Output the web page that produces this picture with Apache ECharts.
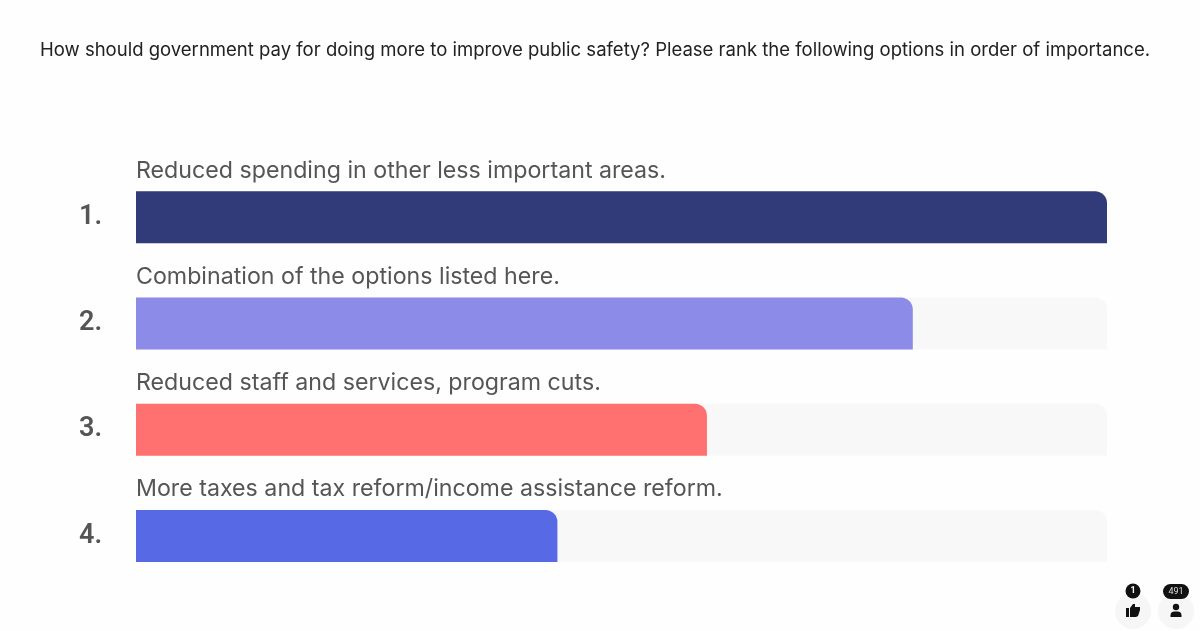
<!DOCTYPE html>
<html><head><meta charset="utf-8">
<style>html,body{margin:0;padding:0;background:#fff}#c{width:1200px;height:631px}</style>
<script src="https://cdn.jsdelivr.net/npm/echarts@6/dist/echarts.min.js"></script>
</head><body><div id="c"></div>
<script>
const titleText = 'How should government pay for doing more to improve public safety? Please rank the following options in order of importance.';
const ranks = ['1.', '2.', '3.', '4.'];
const options = [
  'Reduced spending in other less important areas.',
  'Combination of the options listed here.',
  'Reduced staff and services, program cuts.',
  'More taxes and tax reform/income assistance reform.'
];
const scores = [100, 80, 58.8, 43.4];
const colors = ['#323b7a', '#8c8ce8', '#ff7070', '#5869e6'];
const trackValues = [100, 100, 100, 100];
const likes = '1';
const participants = '491';

const chart = echarts.init(document.getElementById('c'), null, {renderer: 'canvas'});
const FONT = 'Inter';
chart.setOption({
  animation: false,
  backgroundColor: '#fefefe',
  title: {
    text: titleText, left: 35, top: 36,
    textStyle: {fontFamily: FONT, fontSize: 18.53, fontWeight: 400, color: '#222222'}
  },
  grid: {left: 136, right: 93, top: 164, bottom: 42},
  xAxis: {type: 'value', min: 0, max: 100, show: false},
  yAxis: {
    type: 'category', data: ranks, inverse: true,
    axisLine: {show: false}, axisTick: {show: false},
    axisLabel: {
      align: 'left', margin: 57, padding: [3, 0, 0, 0], fontFamily: 'Roboto', fontSize: 27, fontWeight: 600, color: '#555555'
    }
  },
  series: [
    {
      type: 'bar', data: trackValues, barWidth: 52, silent: true,
      itemStyle: {color: '#f8f8f8', borderRadius: [0, 12, 0, 0]},
      label: {
        show: true, position: [0, -32], color: '#555555',
        fontFamily: FONT, fontSize: 23.2, fontWeight: 400,
        formatter: p => options[p.dataIndex]
      }
    },
    {
      type: 'bar', barGap: '-100%', barWidth: 52, silent: true,
      data: scores.map((v, i) => ({value: v, itemStyle: {color: colors[i]}})),
      itemStyle: {borderRadius: [0, 12, 0, 0]}
    }
  ],
  graphic: [
    {type: 'circle', shape: {cx: 1133, cy: 611, r: 18}, style: {fill: '#f6f6f6'}},
    {type: 'circle', shape: {cx: 1176, cy: 611, r: 18}, style: {fill: '#f6f6f6'}},
    {type: 'circle', shape: {cx: 1133, cy: 591, r: 7.5}, style: {fill: '#111'}},
    {type: 'text', style: {x: 1133, y: 591, text: likes, fill: '#fff', fontSize: 9, fontWeight: 700, fontFamily: 'Roboto', align: 'center', verticalAlign: 'middle'}},
    {type: 'rect', shape: {x: 1163, y: 584, width: 26, height: 15, r: 7.5}, style: {fill: '#111'}},
    {type: 'text', style: {x: 1176, y: 591.5, text: participants, fill: '#ddd', fontSize: 9, fontFamily: 'Roboto', align: 'center', verticalAlign: 'middle'}},
    {type: 'rect', shape: {x: 1126, y: 608, width: 3, height: 9}, style: {fill: '#111'}},
    {type: 'polygon', shape: {points: [[1130,608],[1133,604],[1135,604],[1135,607],[1140,607],[1140,610],[1138,616],[1136,617],[1130,617]]}, style: {fill: '#111'}},
    {type: 'circle', shape: {cx: 1176, cy: 607, r: 3.2}, style: {fill: '#111'}},
    {type: 'rect', shape: {x: 1170.5, y: 611.5, width: 11, height: 5.5, r: [4,4,0,0]}, style: {fill: '#111'}}
  ]
});
</script></body></html>
